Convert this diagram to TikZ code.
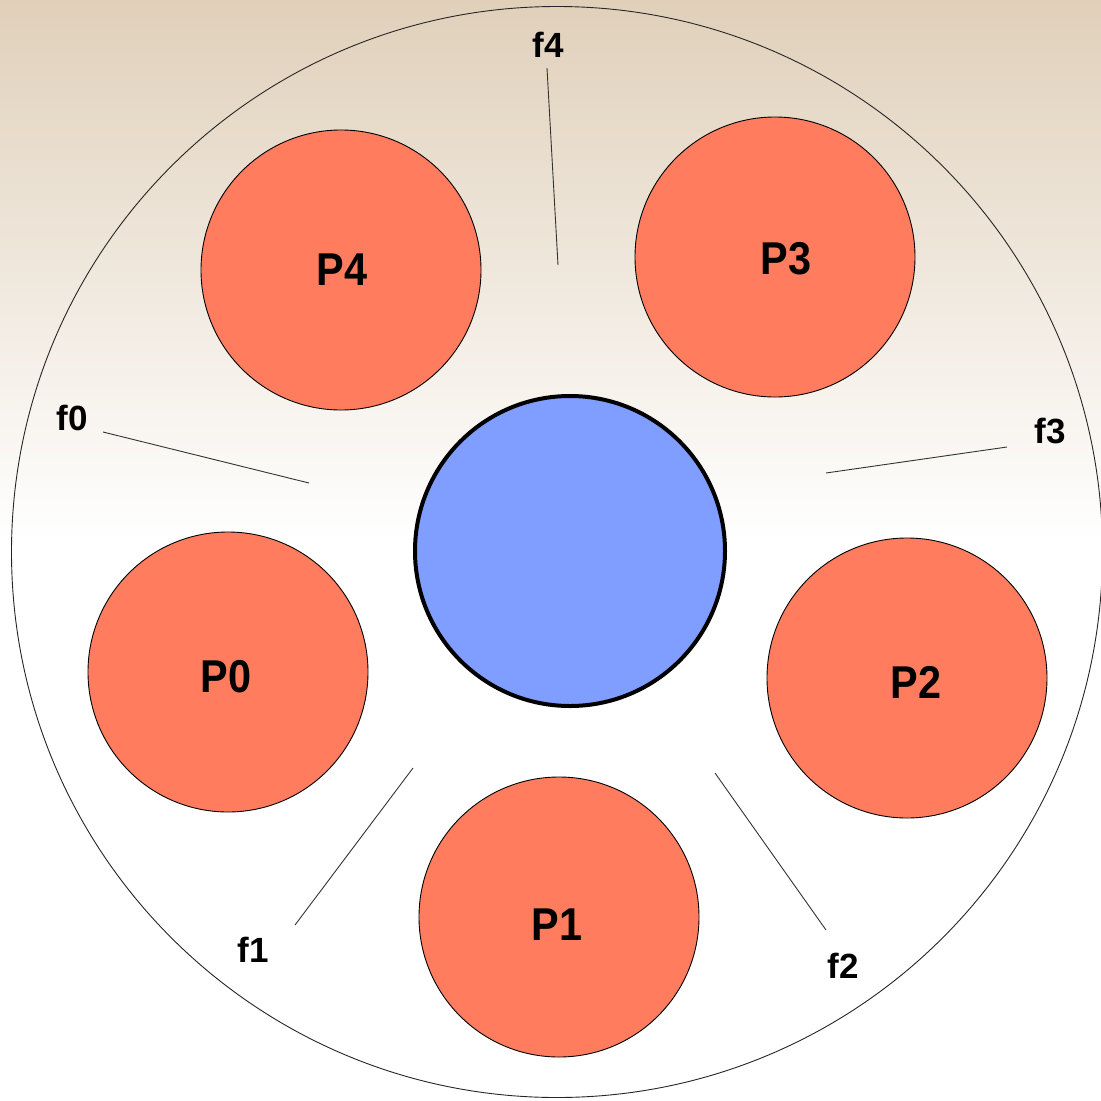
\documentclass[tikz,border=0pt]{standalone}
\usepackage{fontspec}
\setmainfont{Liberation Sans}
\definecolor{tan}{RGB}{224,208,186}
\definecolor{pred}{RGB}{255,124,94}
\definecolor{pblue}{RGB}{127,158,255}
\newcommand{\plab}[1]{\scalebox{0.9}[1]{\bfseries #1}}
\begin{document}
\begin{tikzpicture}[x=1pt,y=-1pt,
  pcirc/.style={circle,draw=black,line width=0.9pt,fill=pred,minimum size=280pt,inner sep=0pt},
  ptext/.style={font=\fontsize{46}{48}\selectfont,inner sep=0pt},
  fork/.style={font=\fontsize{35}{37}\selectfont\bfseries,inner sep=0pt},
  forkline/.style={draw=black!80,line width=0.9pt}]
\useasboundingbox (0,0) rectangle (1101,1101);
\fill[white] (0,0) rectangle (1101,1101);
\shade[top color=tan,bottom color=white] (0,0) rectangle (1101,540);
\node[circle,draw=black!85,line width=0.9pt,minimum size=1091pt,inner sep=0pt] (outer) at (557,552) {};
\node[circle,draw=black,line width=4pt,fill=pblue,minimum size=310pt,inner sep=0pt] (bowl) at (570,551) {};
\node[pcirc] (P4) at (341,270) {};
\node[pcirc] (P3) at (775,257) {};
\node[pcirc] (P0) at (228,672) {};
\node[pcirc] (P2) at (907,678) {};
\node[pcirc] (P1) at (559,917) {};
\node[ptext] (P4t) at (342,270) {\plab{P4}};
\node[ptext] (P3t) at (786,259) {\plab{P3}};
\node[ptext] (P0t) at (226,677) {\plab{P0}};
\node[ptext] (P2t) at (916,682) {\plab{P2}};
\node[ptext] (P1t) at (557,925) {\plab{P1}};
\node[fork] (f4) at (548,45) {f4};
\node[fork] (f0) at (72,418) {f0};
\node[fork] (f3) at (1050,431) {f3};
\node[fork] (f1) at (253,950) {f1};
\node[fork] (f2) at (843,966) {f2};
\coordinate (f4a) at (547,68); \coordinate (f4b) at (558,265);
\coordinate (f0a) at (103,432); \coordinate (f0b) at (309,483);
\coordinate (f3a) at (1007,447); \coordinate (f3b) at (826,473);
\coordinate (f1a) at (295,925); \coordinate (f1b) at (413,768);
\coordinate (f2a) at (826,930); \coordinate (f2b) at (715,773);
\draw[forkline] (f4a) -- (f4b);
\draw[forkline] (f0a) -- (f0b);
\draw[forkline] (f3a) -- (f3b);
\draw[forkline] (f1a) -- (f1b);
\draw[forkline] (f2a) -- (f2b);
\end{tikzpicture}
\end{document}
